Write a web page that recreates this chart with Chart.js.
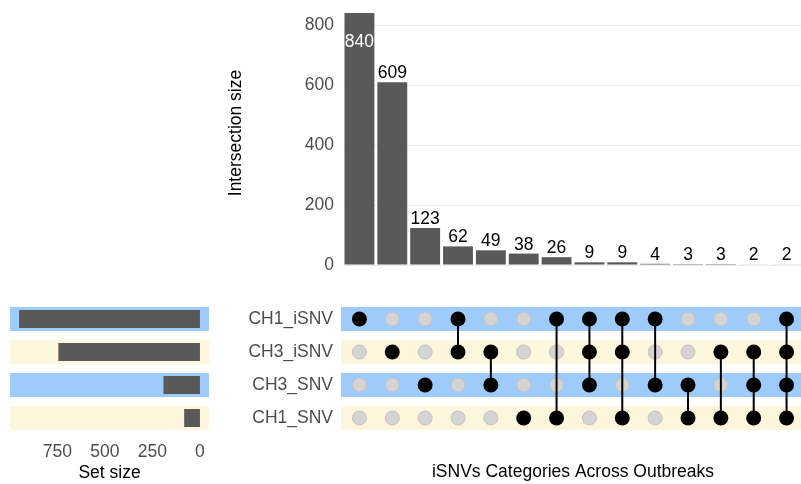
<!DOCTYPE html>
<html>
<head>
<meta charset="utf-8">
<script src="https://cdn.jsdelivr.net/npm/chart.js@4.4.1/dist/chart.umd.min.js"></script>
<style>
    html, body { margin: 0; padding: 0; background: #fff; overflow: hidden; }
    body { width: 801px; height: 484px; position: relative; }
    .box { position: absolute; }
</style>
</head>
<body>
<div class="box" style="left:220px; top:0px; width:584px; height:280px;"><canvas id="topChart"></canvas></div>
<div class="box" style="left:0px; top:295px; width:220px; height:189px;"><canvas id="setChart"></canvas></div>
<div class="box" style="left:220px; top:295px; width:584px; height:189px;"><canvas id="matrixChart"></canvas></div>
<script>
const sets = ['CH1_iSNV', 'CH3_iSNV', 'CH3_SNV', 'CH1_SNV'];
const setSizes = [952, 745, 192, 83];
const setTicks = [0, 250, 500, 750];

const intersectionSizes = [840, 609, 123, 62, 49, 38, 26, 9, 9, 4, 3, 3, 2, 2];
// members of each intersection, by index into sets
const combos = [[0], [1], [2], [0, 1], [1, 2], [3], [0, 3], [0, 1, 2], [0, 1, 3], [0, 2], [2, 3], [1, 3], [1, 2, 3], [0, 1, 2, 3]];
const sizeTicks = [0, 200, 400, 600, 800];

const bandColors = ['#9ecbfa', '#fdf5dc', '#9ecbfa', '#fdf5dc'];
const barColor = '#595959';
const font = 'Liberation Sans, Arial, sans-serif';
const tickColor = '#4d4d4d';
const fs = 17.5;

Chart.defaults.font.family = font;
Chart.defaults.font.size = fs;
Chart.defaults.animation = false;
Chart.defaults.responsive = true;
Chart.defaults.maintainAspectRatio = false;
Chart.defaults.plugins.legend.display = false;
Chart.defaults.plugins.tooltip.enabled = false;

const colIdx = intersectionSizes.map((v, i) => String(i + 1));

// no automatic label padding, so the plot areas line up
function noPad(s) {
    s.paddingTop = 0;
    s.paddingBottom = 0;
    s.paddingLeft = 0;
    s.paddingRight = 0;
}

const barLabels = {
    id: 'barLabels',
    afterDatasetsDraw(chart) {
        const ctx = chart.ctx;
        const meta = chart.getDatasetMeta(0);
        ctx.save();
        ctx.font = fs + 'px ' + font;
        ctx.textAlign = 'center';
        meta.data.forEach((bar, i) => {
            const v = intersectionSizes[i];
            if (bar.y - 20 < chart.chartArea.top) {
                ctx.fillStyle = '#ffffff';
                ctx.textBaseline = 'middle';
                ctx.fillText(v, bar.x, bar.y + 29);
            } else {
                ctx.fillStyle = '#000000';
                ctx.textBaseline = 'bottom';
                ctx.fillText(v, bar.x, bar.y);
            }
        });
        ctx.restore();
    }
};

function rowBands(left) {
    return {
        id: 'rowBands',
        beforeDatasetsDraw(chart) {
            const ctx = chart.ctx;
            const y = chart.scales.y;
            const step = y.getPixelForValue(1) - y.getPixelForValue(0);
            const h = step * 0.73;
            ctx.save();
            sets.forEach((s, i) => {
                ctx.fillStyle = bandColors[i];
                const yc = y.getPixelForValue(i);
                ctx.fillRect(chart.chartArea.left + left, yc - h / 2, chart.chartArea.right - chart.chartArea.left - left, h);
            });
            ctx.restore();
        }
    };
}

new Chart(document.getElementById('topChart'), {
    type: 'bar',
    data: {
        labels: colIdx,
        datasets: [{
            data: intersectionSizes,
            backgroundColor: barColor,
            barPercentage: 0.91,
            categoryPercentage: 1
        }]
    },
    options: {
        layout: { autoPadding: false, padding: { top: 1, right: 1, bottom: 15, left: 0 } },
        scales: {
            x: { display: false },
            y: {
                min: 0,
                max: 880,
                afterBuildTicks: s => { s.ticks = sizeTicks.map(v => ({ value: v })); },
                afterFit: s => { s.width = 123; noPad(s); },
                grid: { color: '#ebebeb', drawTicks: false },
                border: { display: false },
                ticks: { color: tickColor, padding: 9 },
                title: { display: true, text: 'Intersection size', color: '#000', padding: { top: 6, bottom: 4 } }
            }
        }
    },
    plugins: [barLabels]
});

new Chart(document.getElementById('setChart'), {
    type: 'bar',
    data: {
        labels: sets,
        datasets: [{
            data: setSizes,
            backgroundColor: barColor,
            barPercentage: 0.55,
            categoryPercentage: 1
        }]
    },
    options: {
        indexAxis: 'y',
        layout: { autoPadding: false, padding: { top: 7.5, right: 11, bottom: 0, left: 10 } },
        scales: {
            y: { display: false, afterFit: s => { s.width = 0; noPad(s); } },
            x: {
                min: -47.6,
                max: 999.6,
                reverse: true,
                afterBuildTicks: s => { s.ticks = setTicks.map(v => ({ value: v })); },
                afterFit: s => { s.height = 49.5; noPad(s); },
                grid: { display: false },
                border: { display: false },
                ticks: { color: tickColor, padding: -1, maxRotation: 0 },
                title: { display: true, text: 'Set size', color: '#000', padding: { top: 0, bottom: 0 } }
            }
        }
    },
    plugins: [rowBands(0)]
});

const blackDots = [];
const greyDots = [];
combos.forEach((members, c) => {
    sets.forEach((s, r) => {
        (members.includes(r) ? blackDots : greyDots).push({ x: c + 1, y: s });
    });
});

const connectors = combos.filter(m => m.length > 1).map(members => {
    const c = combos.indexOf(members) + 1;
    return {
        type: 'line',
        data: [{ x: c, y: sets[Math.min(...members)] }, { x: c, y: sets[Math.max(...members)] }],
        borderColor: '#000',
        borderWidth: 2,
        pointRadius: 0,
        order: 1
    };
});

new Chart(document.getElementById('matrixChart'), {
    type: 'scatter',
    data: {
        datasets: [
            { data: blackDots, backgroundColor: '#000', borderColor: '#000', borderWidth: 0, pointRadius: 7.5, order: 0 },
            ...connectors,
            { data: greyDots, backgroundColor: '#d4d4d4', borderColor: '#c2c2c2', borderWidth: 1, pointRadius: 7, order: 2 }
        ]
    },
    options: {
        layout: { autoPadding: false, padding: { top: 7.5, right: 1, bottom: 0, left: 0 } },
        scales: {
            x: {
                type: 'linear',
                min: 0.5,
                max: 14.5,
                afterFit: s => { s.height = 49.5; noPad(s); },
                grid: { display: false },
                border: { display: false },
                ticks: { display: false },
                title: { display: true, text: 'iSNVs Categories Across Outbreaks', color: '#000', padding: { top: 0, bottom: 1.5 } }
            },
            y: {
                type: 'category',
                labels: sets,
                offset: true,
                afterFit: s => { s.width = 123; noPad(s); },
                grid: { display: false, drawTicks: false },
                border: { display: false },
                ticks: { color: tickColor, padding: 10 }
            }
        }
    },
    plugins: [rowBands(-2)]
});
</script>
</body>
</html>
